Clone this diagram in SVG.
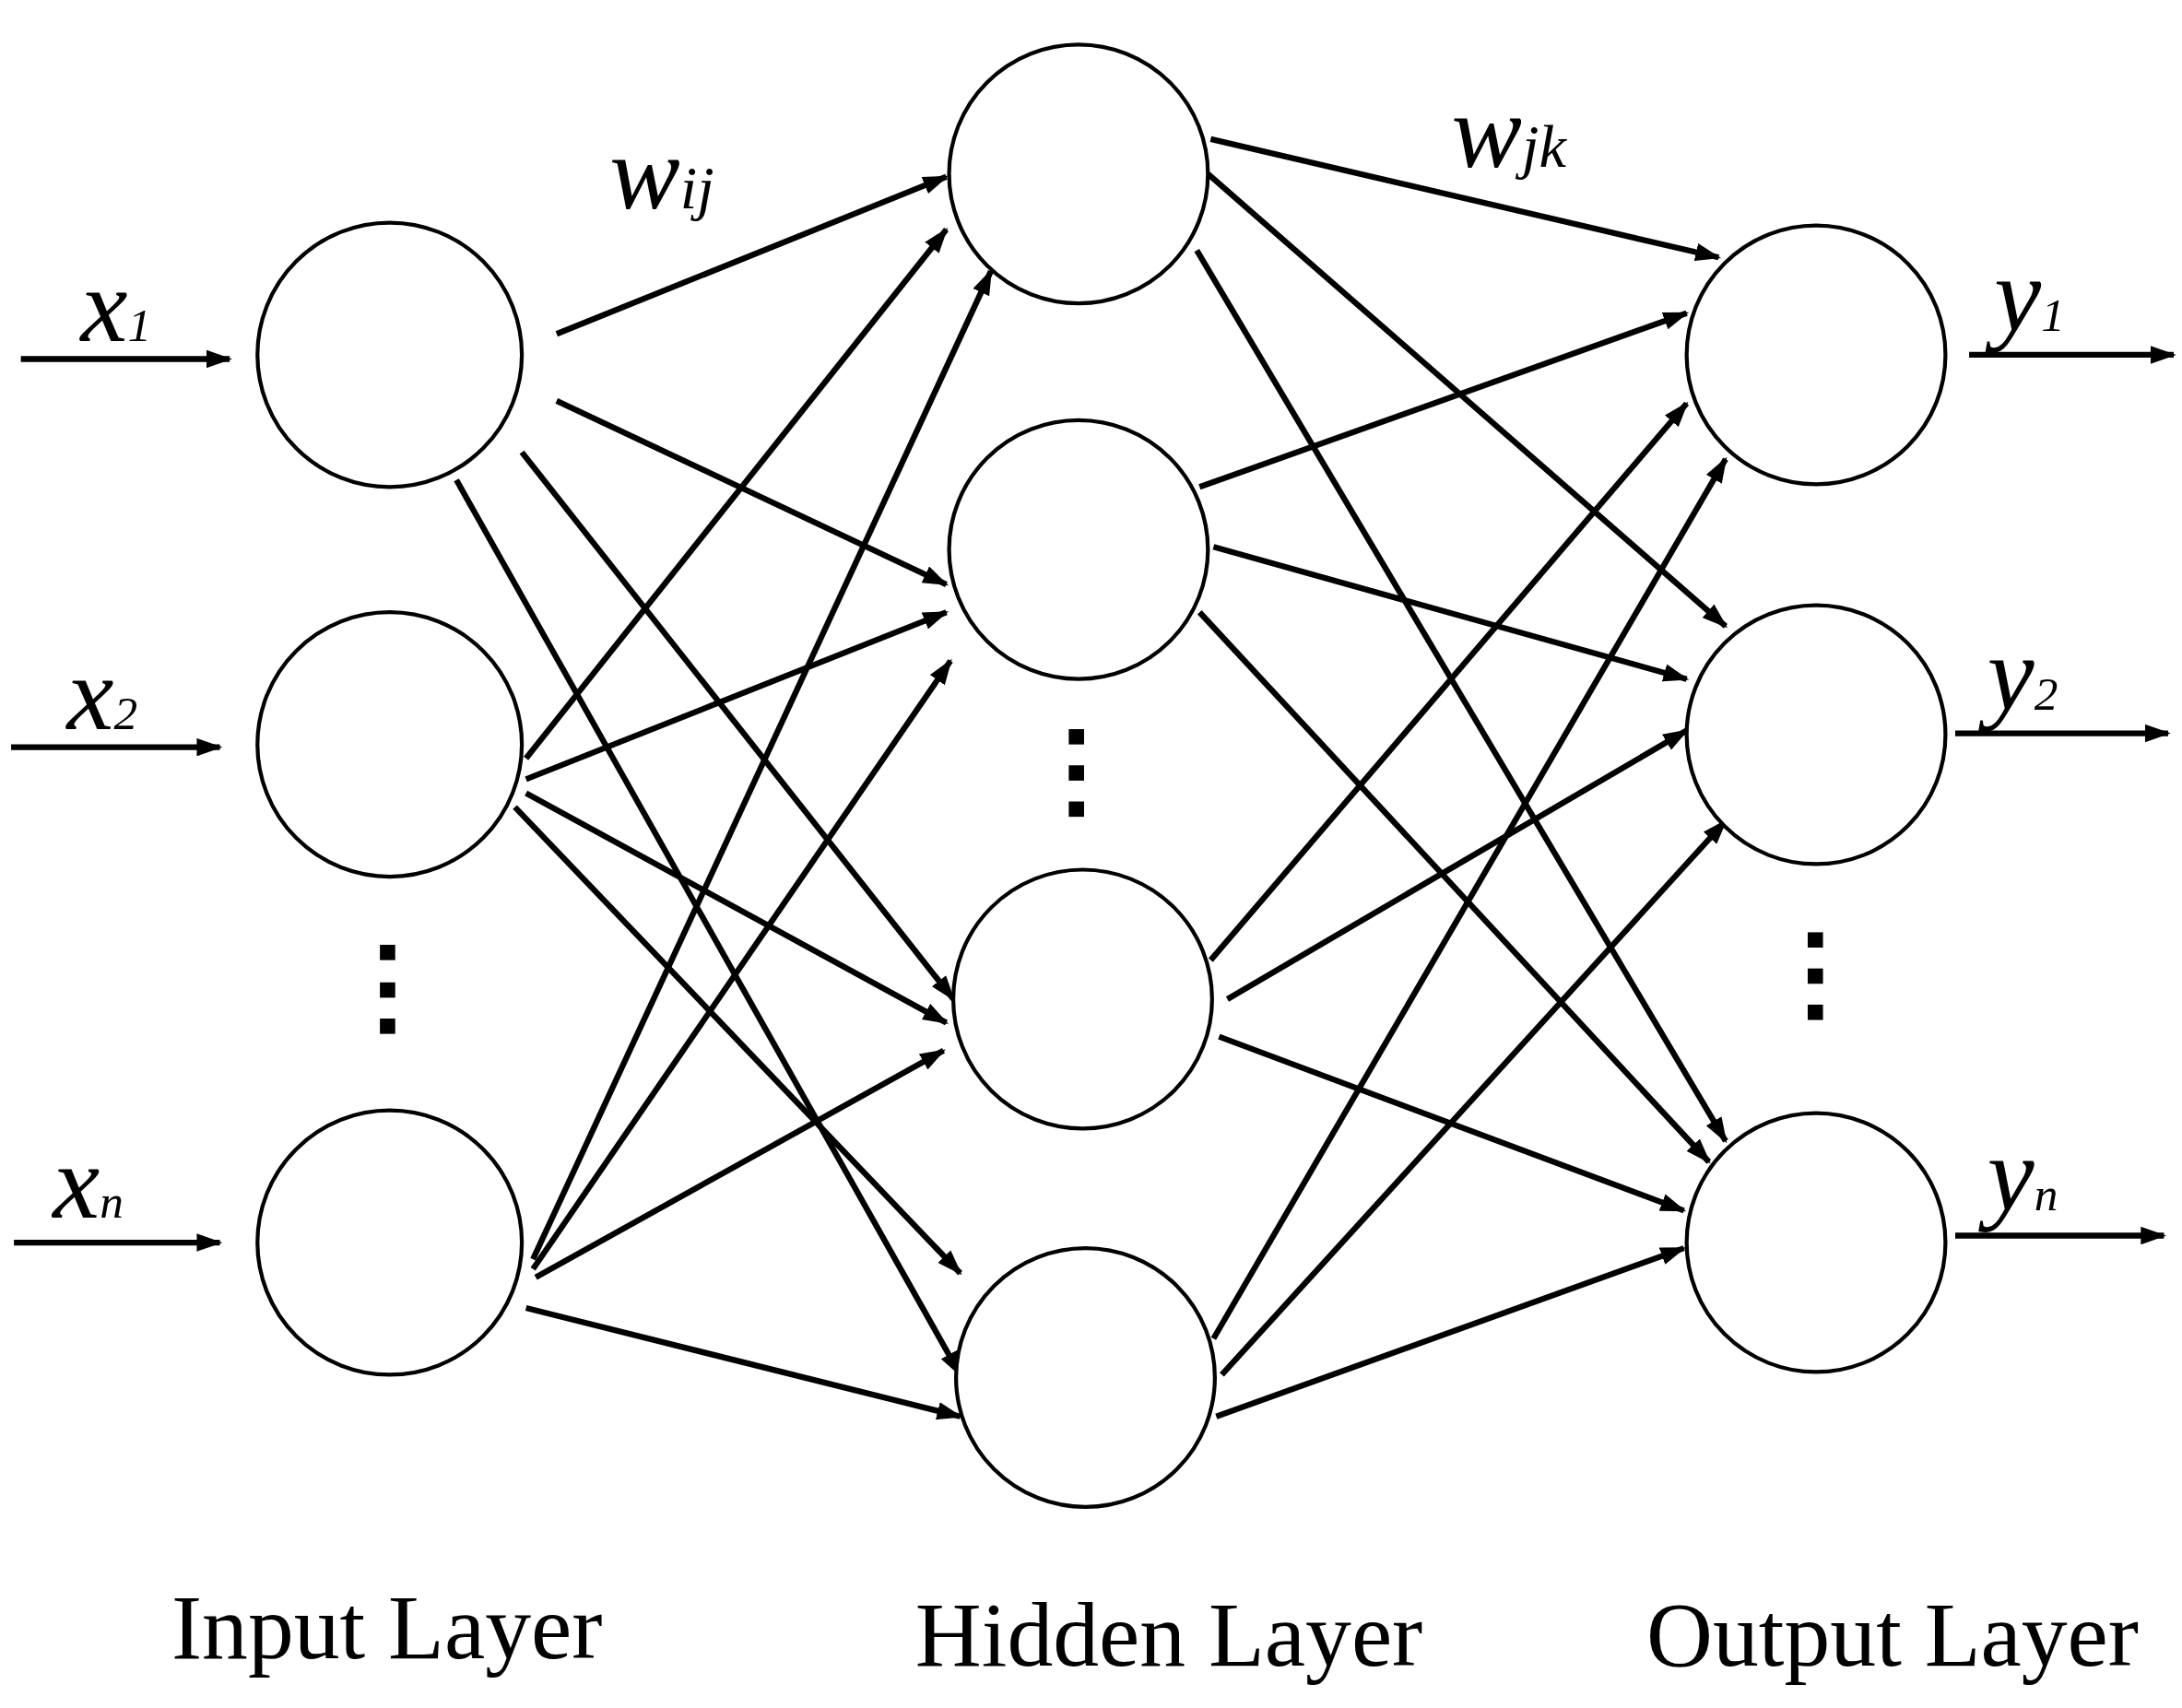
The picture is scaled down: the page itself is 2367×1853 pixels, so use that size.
<svg xmlns="http://www.w3.org/2000/svg" width="2367" height="1853" viewBox="0 0 2367 1853">
<defs>
<marker id="ah" viewBox="0 0 10 7" markerWidth="4.4" markerHeight="3.1" refX="9" refY="3.5" orient="auto" markerUnits="strokeWidth"><path d="M0,0 L10,3.5 L0,7 z" fill="#000"/></marker>
<style>
.n{fill:#fff;stroke:#000;stroke-width:2.8}
.e line{stroke:#000;stroke-width:4.2;marker-end:url(#ah)}
.v{font-family:"Liberation Serif",serif;font-style:italic;fill:#000}
.l{font-family:"Liberation Serif",serif;font-size:66px;fill:#000}
.d{fill:#000}
</style>
</defs>
<rect width="2367" height="1853" fill="#fff"/>
<g transform="scale(1.5096)">
<g id="connectors" class="e">
<line x1="15" y1="258" x2="165" y2="258"/>
<line x1="8" y1="537" x2="158" y2="537"/>
<line x1="10" y1="893" x2="158" y2="893"/>
<line x1="1415" y1="255" x2="1562" y2="255"/>
<line x1="1405" y1="527" x2="1558" y2="527"/>
<line x1="1405" y1="888" x2="1555" y2="888"/>
<line x1="400" y1="240" x2="680" y2="127"/>
<line x1="400" y1="288" x2="680" y2="420"/>
<line x1="375" y1="325" x2="685" y2="718"/>
<line x1="328" y1="345" x2="690" y2="988"/>
<line x1="378" y1="545" x2="680" y2="165"/>
<line x1="378" y1="560" x2="680" y2="440"/>
<line x1="378" y1="570" x2="680" y2="735"/>
<line x1="370" y1="580" x2="690" y2="915"/>
<line x1="383" y1="905" x2="712" y2="195"/>
<line x1="383" y1="912" x2="683" y2="475"/>
<line x1="385" y1="918" x2="678" y2="755"/>
<line x1="378" y1="940" x2="690" y2="1018"/>
<line x1="870" y1="100" x2="1235" y2="185"/>
<line x1="868" y1="125" x2="1240" y2="450"/>
<line x1="860" y1="180" x2="1240" y2="820"/>
<line x1="862" y1="350" x2="1212" y2="225"/>
<line x1="872" y1="393" x2="1212" y2="488"/>
<line x1="862" y1="440" x2="1228" y2="835"/>
<line x1="870" y1="690" x2="1212" y2="290"/>
<line x1="882" y1="718" x2="1212" y2="525"/>
<line x1="876" y1="745" x2="1210" y2="870"/>
<line x1="872" y1="962" x2="1240" y2="330"/>
<line x1="878" y1="988" x2="1240" y2="590"/>
<line x1="874" y1="1018" x2="1210" y2="897"/>
</g>
<g id="in1"><circle class="n" cx="280" cy="255" r="95"/><text class="v" x="58" y="245" font-size="76">x<tspan font-size="34">1</tspan></text></g>
<g id="in2"><circle class="n" cx="280" cy="535" r="95"/><text class="v" x="48" y="524" font-size="76">x<tspan font-size="34">2</tspan></text></g>
<g id="inn"><circle class="n" cx="280" cy="893" r="95"/><text class="v" x="38" y="875" font-size="76">x<tspan font-size="34">n</tspan></text></g>
<g id="h1"><circle class="n" cx="775" cy="125" r="93"/></g>
<g id="h2"><circle class="n" cx="775" cy="395" r="93"/></g>
<g id="h3"><circle class="n" cx="778" cy="718" r="93"/></g>
<g id="h4"><circle class="n" cx="780" cy="990" r="93"/></g>
<g id="o1"><circle class="n" cx="1305" cy="255" r="93"/><text class="v" x="1433" y="238" font-size="76">y<tspan font-size="34">1</tspan></text></g>
<g id="o2"><circle class="n" cx="1305" cy="528" r="93"/><text class="v" x="1428" y="510" font-size="76">y<tspan font-size="34">2</tspan></text></g>
<g id="on"><circle class="n" cx="1305" cy="893" r="93"/><text class="v" x="1428" y="870" font-size="76">y<tspan font-size="34">n</tspan></text></g>
<g id="labels">
<text class="v" x="438" y="150" font-size="76">w<tspan font-size="44">ij</tspan></text>
<text class="v" x="1043" y="120" font-size="76">w<tspan font-size="44">jk</tspan></text>
<rect class="d" x="273" y="679" width="11" height="11"/><rect class="d" x="273" y="706" width="11" height="11"/><rect class="d" x="273" y="732" width="11" height="11"/>
<rect class="d" x="768" y="524" width="11" height="11"/><rect class="d" x="768" y="550" width="11" height="11"/><rect class="d" x="768" y="576" width="11" height="11"/>
<rect class="d" x="1299" y="670" width="11" height="11"/><rect class="d" x="1299" y="696" width="11" height="11"/><rect class="d" x="1299" y="722" width="11" height="11"/>
<text class="l" x="278" y="1192" text-anchor="middle">Input Layer</text>
<text class="l" x="840" y="1197" text-anchor="middle">Hidden Layer</text>
<text class="l" x="1360" y="1197" text-anchor="middle">Output Layer</text>
</g>
</g>
</svg>
